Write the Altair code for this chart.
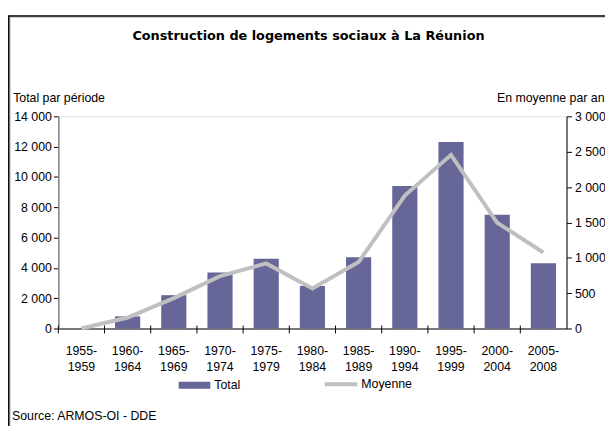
import altair as alt
import pandas as pd

TITLE = "Construction de logements sociaux à La Réunion"
SOURCE = "Source: ARMOS-OI - DDE"
LEFT_TITLE = "Total par période"
RIGHT_TITLE = "En moyenne par an"

periods = ["1955-1959", "1960-1964", "1965-1969", "1970-1974", "1975-1979",
           "1980-1984", "1985-1989", "1990-1994", "1995-1999", "2000-2004", "2005-2008"]
totals = [0, 800, 2200, 3700, 4600, 2800, 4700, 9400, 12300, 7500, 4300]
averages = [0, 155, 430, 740, 920, 565, 940, 1880, 2455, 1495, 1075]
left_ticks = [0, 2000, 4000, 6000, 8000, 10000, 12000, 14000]
right_ticks = [0, 500, 1000, 1500, 2000, 2500, 3000]

df = pd.DataFrame({"periode": periods, "total": totals, "moyenne": averages,
                   "s1": "Total", "s2": "Moyenne"})

FONT = "Liberation Sans"
FS = 12.5
W, H = 515, 215
PL, PT = 51, 107
BAR_COLOR = "#666699"
LINE_COLOR = "#c0c0c0"
num_expr = "replace(format(datum.value, ','), ',', ' ')"

x_axis = alt.X("periode:N", sort=periods,
               scale=alt.Scale(paddingInner=0, paddingOuter=0),
               axis=alt.Axis(title=None, ticks=False, tickSize=0, labelAngle=0,
                             labelExpr="[slice(datum.value,0,5), slice(datum.value,5)]",
                             labelPadding=16, labelLineHeight=17, labelFont=FONT,
                             labelFontSize=FS, labelColor="black", domainColor="black",
                             domainWidth=1, grid=False))

bars = alt.Chart(df).mark_bar(size=25.5).encode(
    x=x_axis,
    y=alt.Y("total:Q", scale=alt.Scale(domain=[0, 14000], nice=False),
            axis=alt.Axis(values=left_ticks, title=LEFT_TITLE, titleAngle=0,
                          titleX=-46.3, titleY=-19.3, titleAlign="left",
                          titleBaseline="middle", titleFont=FONT, titleFontSize=FS,
                          titleFontWeight="normal", titleColor="black",
                          labelExpr=num_expr, labelFont=FONT, labelFontSize=FS,
                          labelColor="black", grid=False, domainColor="#808080",
                          domainWidth=1.5, tickColor="black", tickSize=5,
                          labelPadding=2)),
    color=alt.Color("s1:N", scale=alt.Scale(domain=["Total"], range=[BAR_COLOR]),
                    legend=alt.Legend(orient="none", legendX=122, legendY=256.5,
                                      title=None, symbolType="M-1,-0.22H1V0.22H-1Z",
                                      symbolSize=1024, symbolStrokeWidth=0,
                                      symbolOpacity=1, labelFont=FONT,
                                      labelFontSize=FS, labelColor="black",
                                      labelOffset=4, padding=0)),
)

line = alt.Chart(df).mark_line(strokeWidth=4).encode(
    x=alt.X("periode:N", sort=periods),
    y=alt.Y("moyenne:Q", scale=alt.Scale(domain=[0, 3000], nice=False),
            axis=alt.Axis(orient="right", values=right_ticks, title=RIGHT_TITLE,
                          titleAngle=0, titleX=-71, titleY=-19.3, titleAlign="left",
                          titleBaseline="middle", titleFont=FONT, titleFontSize=FS,
                          titleFontWeight="normal", titleColor="black",
                          labelExpr=num_expr, labelFont=FONT, labelFontSize=FS,
                          labelColor="black", grid=False, domainColor="black",
                          domainWidth=1, tickColor="black", tickSize=5,
                          labelPadding=3)),
    stroke=alt.Stroke("s2:N", scale=alt.Scale(domain=["Moyenne"], range=[LINE_COLOR]),
                      legend=alt.Legend(orient="none", legendX=268, legendY=253,
                                        title=None, symbolType="stroke",
                                        symbolSize=1089, symbolStrokeWidth=4,
                                        labelFont=FONT, labelFontSize=FS,
                                        labelColor="black", labelOffset=2,
                                        padding=0)),
)

xticks = alt.Chart(df).mark_rule(color="black", strokeWidth=1).encode(
    x=alt.X("periode:N", sort=periods, bandPosition=0),
    y=alt.value(H - 3), y2=alt.value(H + 5),
)

one = pd.DataFrame({"t": [TITLE]})
title = alt.Chart(one).mark_text(font="DejaVu Sans", fontSize=13, fontWeight="bold",
                                 color="black", align="center", baseline="middle").encode(
    text="t:N", x=alt.value(253.5), y=alt.value(-81))

src = alt.Chart(pd.DataFrame({"t": [SOURCE]})).mark_text(
    font=FONT, fontSize=FS, color="black", align="left", baseline="middle").encode(
    text="t:N", x=alt.value(-47), y=alt.value(303.5))

frame_data = pd.DataFrame({"a": [0]})
fl = alt.Chart(frame_data).mark_rule(color="black", strokeWidth=1.5).encode(
    x=alt.value(-50.2), y=alt.value(-102), y2=alt.value(320))
fl2 = alt.Chart(frame_data).mark_rule(color="#c8c8c8", strokeWidth=1).encode(
    x=alt.value(-48.7), y=alt.value(-100.5), y2=alt.value(320))
ft = alt.Chart(frame_data).mark_rule(color="black", strokeWidth=1.5).encode(
    x=alt.value(-51), x2=alt.value(600), y=alt.value(-101.8))
ft2 = alt.Chart(frame_data).mark_rule(color="#c8c8c8", strokeWidth=1).encode(
    x=alt.value(-49), x2=alt.value(600), y=alt.value(-100.3))

chart = alt.layer(fl2, ft2, fl, ft, title, src, bars, line, xticks).resolve_scale(
    y="independent"
).properties(
    width=W, height=H,
    padding={"left": PL, "top": PT, "right": 605 - PL - W, "bottom": 418 - PT - H},
    autosize=alt.AutoSizeParams(type="none"),
).configure_view(stroke=None).configure(background="white")

chart.save("out.html", embed_options={"renderer": "svg", "actions": False})
